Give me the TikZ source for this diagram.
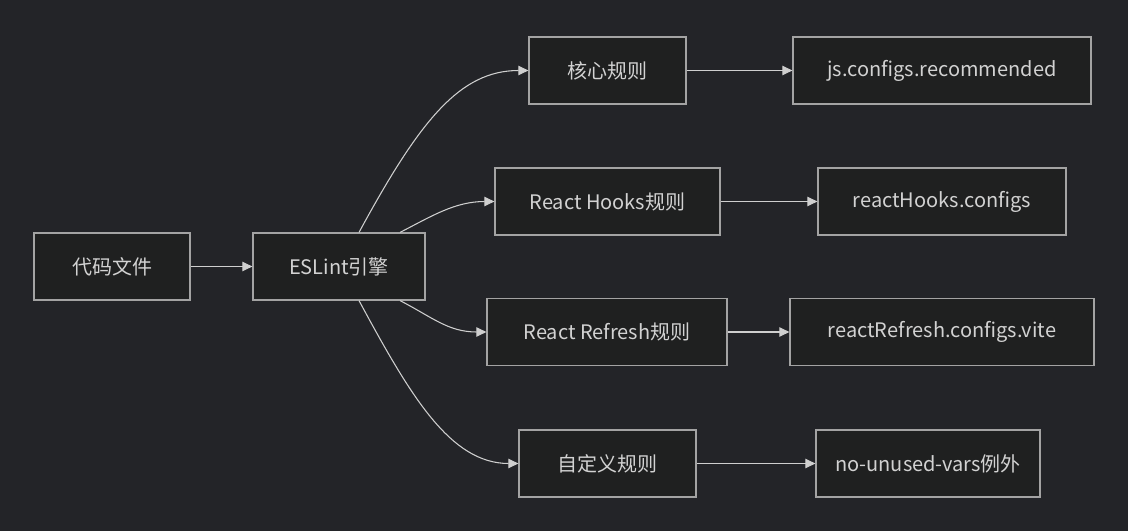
\documentclass[tikz,border=0pt]{standalone}
\usepackage{fontspec}
\setmainfont{Noto Sans CJK SC}
\usetikzlibrary{arrows.meta}
\definecolor{bgcol}{HTML}{232428}
\definecolor{boxfill}{HTML}{1F2020}
\definecolor{boxline}{HTML}{A3A3A3}
\definecolor{txtcol}{HTML}{D2D2D2}
\definecolor{linkcol}{HTML}{CFCFCF}
\tikzset{
    rulebox/.style={draw=boxline, fill=boxfill, text=txtcol, line width=0.9pt,
        minimum height=50.25pt, inner sep=0pt, font=\fontsize{15}{18}\selectfont},
    link/.style={draw=linkcol, line width=0.8pt, -{Triangle[length=7.5pt,width=7pt]}}
}
\begin{document}
\begin{tikzpicture}[x=0.75pt, y=-0.75pt]
    \fill[bgcol] (0,0) rectangle (1128,531);
    \useasboundingbox (0,0) rectangle (1128,531);
    \node[rulebox, minimum width=117pt] (code) at (112,266.5) {代码文件};
    \node[rulebox, minimum width=129pt] (eslint) at (339,266.5) {ESLint引擎};
    \node[rulebox, minimum width=117.75pt] (core) at (607.5,70.5) {核心规则};
    \node[rulebox, minimum width=168.75pt] (hooks) at (607.5,201.5) {React Hooks规则};
    \node[rulebox, minimum width=180pt] (refresh) at (607,332) {React Refresh规则};
    \node[rulebox, minimum width=132.75pt] (custom) at (607.5,463.5) {自定义规则};
    \node[rulebox, minimum width=223.5pt] (jscfg) at (942,70.5) {js.configs.recommended};
    \node[rulebox, minimum width=186pt] (hookscfg) at (942,201.5) {reactHooks.configs};
    \node[rulebox, minimum width=228pt] (vitecfg) at (942,332) {reactRefresh.configs.vite};
    \node[rulebox, minimum width=168pt] (unused) at (928,463.5) {no-unused-vars例外};
    \draw[link] (code) -- (eslint);
    \draw[link] ([xshift=15pt]eslint.north) .. controls (420,120) and (460,70.5) .. (core.west);
    \draw[link] ([xshift=45.75pt]eslint.north) .. controls (432,216) and (455,201.5) .. (hooks.west);
    \draw[link] ([xshift=45.75pt]eslint.south) .. controls (432,317) and (448,332) .. (refresh.west);
    \draw[link] ([xshift=15pt]eslint.south) .. controls (410,395) and (450,463.5) .. (custom.west);
    \draw[link] (core) -- (jscfg);
    \draw[link] (hooks) -- (hookscfg);
    \draw[link] (refresh) -- (vitecfg);
    \draw[link] (custom) -- (unused);
\end{tikzpicture}
\end{document}
